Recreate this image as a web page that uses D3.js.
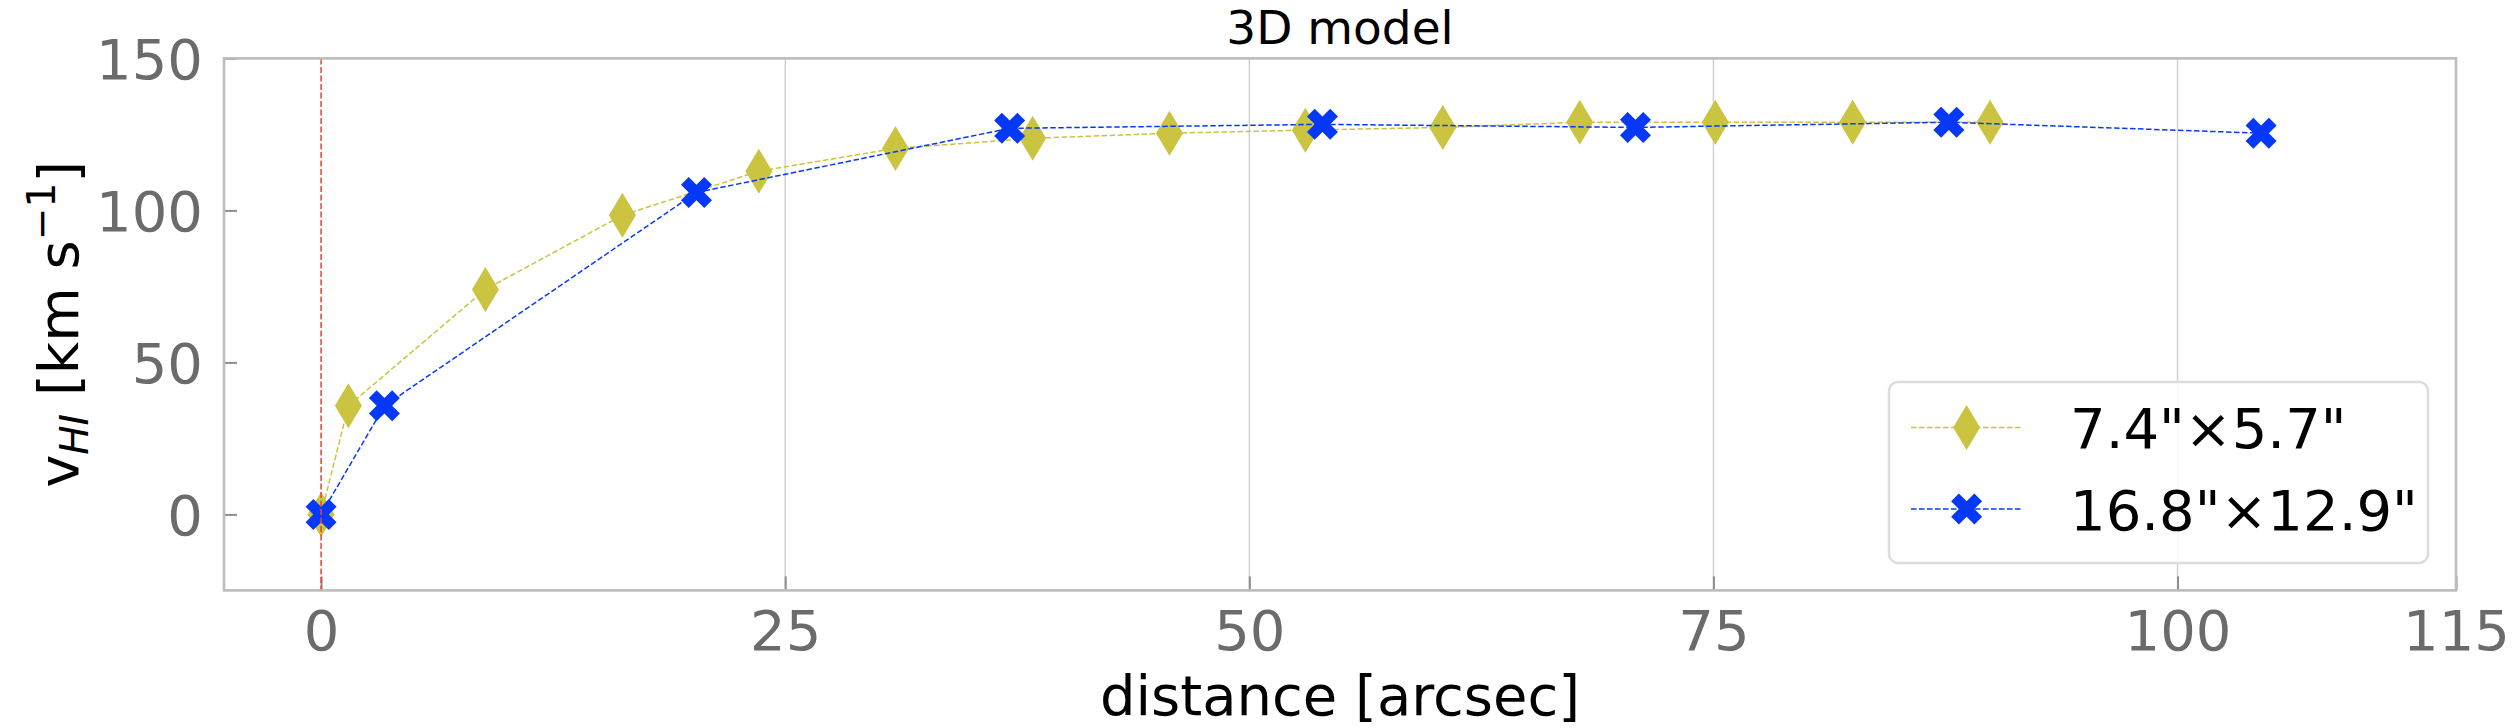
<!DOCTYPE html>
<html>
<head>
<meta charset="utf-8">
<script src="https://cdn.jsdelivr.net/npm/d3@7"></script>
<style>
  html, body { margin: 0; padding: 0; background: #ffffff; }
  svg { display: block; }
  text { font-family: "DejaVu Sans", sans-serif; }
</style>
</head>
<body>
<script>
// ---------------- data ----------------
const seriesNames = ['7.4"\u00d75.7"', '16.8"\u00d712.9"'];
const distYellow = [0, 1.47, 8.85, 16.23, 23.58, 30.94, 38.33, 45.70, 53.02, 60.42, 67.80, 75.10, 82.50, 89.90];
const velYellow  = [0, 35.7, 74.0, 98.4, 112.9, 120.4, 123.7, 125.4, 126.4, 127.3, 129.0, 129.0, 129.0, 129.0];
const distBlue   = [0, 3.41, 20.22, 37.09, 53.94, 70.80, 87.68, 104.50];
const velBlue    = [0, 35.7, 105.9, 127.0, 128.3, 127.3, 129.0, 125.4];
const xTicks = [0, 25, 50, 75, 100, 115];
const xTickLabels = ["0", "25", "50", "75", "100", "115"];
const yTicks = [0, 50, 100, 150];
const yTickLabels = ["0", "50", "100", "150"];
const titleText = "3D model";
const xLabelText = "distance [arcsec]";

// ---------------- layout ----------------
const W = 2512, H = 728;
const L = 224, R = 2456, T = 58.4, B = 590.4;
const colYellow = "#cac441", colBlue = "#0638fa", colRed = "#e8432c";
const FS = 56;

const svg = d3.select("body").append("svg").attr("width", W).attr("height", H);

const x = d3.scaleLinear().domain([-5.23, 115]).range([L, R]);
const y = d3.scaleLinear().domain([-25, 150]).range([B, T]);

// grid (vertical only)
svg.append("g").selectAll("line").data(xTicks.filter(d => d > 0 && d < 115)).join("line")
  .attr("x1", d => x(d)).attr("x2", d => x(d)).attr("y1", T).attr("y2", B)
  .attr("stroke", "#d0d0d0").attr("stroke-width", 1.4);

// axes with inward ticks
const xAxis = d3.axisBottom(x).tickValues(xTicks).tickFormat((d, i) => xTickLabels[i])
  .tickSizeInner(-14).tickSizeOuter(0).tickPadding(0);
const gx = svg.append("g").attr("transform", `translate(0,${B})`).call(xAxis);
gx.select(".domain").remove();
gx.selectAll(".tick line").attr("stroke", "#8c8c8c").attr("stroke-width", 2);
gx.selectAll(".tick text").attr("y", 60).attr("dy", null)
  .attr("font-size", FS).attr("fill", "#6b6b6b").attr("font-family", "DejaVu Sans");

const yAxis = d3.axisLeft(y).tickValues(yTicks).tickFormat((d, i) => yTickLabels[i])
  .tickSizeInner(-13).tickSizeOuter(0).tickPadding(0);
const gy = svg.append("g").attr("transform", `translate(${L},0)`).call(yAxis);
gy.select(".domain").remove();
gy.selectAll(".tick line").attr("stroke", "#8c8c8c").attr("stroke-width", 2);
gy.selectAll(".tick text").attr("x", -21).attr("dy", "0.36em")
  .attr("font-size", FS).attr("fill", "#6b6b6b").attr("font-family", "DejaVu Sans");

// markers
const diamondPath = () => {
  const h = 22.5, w = 13.5;
  return `M0,${-h}L${w},0L0,${h}L${-w},0Z`;
};
const xPath = () => {
  const s = 31 / 4;
  const pts = [[-1,-2],[0,-1],[1,-2],[2,-1],[1,0],[2,1],[1,2],[0,1],[-1,2],[-2,1],[-1,0],[-2,-1]];
  return "M" + pts.map(p => `${p[0]*s},${p[1]*s}`).join("L") + "Z";
};

const line = d3.line().x(d => x(d[0])).y(d => y(d[1]));

function drawSeries(xs, vs, color, pathFn) {
  const pts = xs.map((d, i) => [d, vs[i]]);
  const g = svg.append("g");
  g.append("path").attr("d", line(pts)).attr("fill", "none")
    .attr("stroke", color).attr("stroke-width", 1.5).attr("stroke-dasharray", "5.5,2.5");
  g.selectAll("path.m").data(pts).join("path").attr("class", "m")
    .attr("transform", d => `translate(${x(d[0])},${y(d[1])})`)
    .attr("d", pathFn()).attr("fill", color);
}
drawSeries(distYellow, velYellow, colYellow, diamondPath);
drawSeries(distBlue, velBlue, colBlue, xPath);

// red vertical reference line
svg.append("line").attr("x1", x(0)).attr("x2", x(0)).attr("y1", T).attr("y2", B)
  .attr("stroke", colRed).attr("stroke-width", 1.5).attr("stroke-dasharray", "6,2.5");

// spines
svg.append("rect").attr("x", L).attr("y", T).attr("width", R - L).attr("height", B - T)
  .attr("fill", "none").attr("stroke", "#bcbcbc").attr("stroke-width", 2.6);

// title
svg.append("text").attr("x", (L + R) / 2).attr("y", 44).attr("text-anchor", "middle")
  .attr("font-size", 47).attr("fill", "#000").text(titleText);

// x label
svg.append("text").attr("x", (L + R) / 2).attr("y", 715).attr("text-anchor", "middle")
  .attr("font-size", FS).attr("fill", "#000").text(xLabelText);

// y label with sub/superscript
const yl = svg.append("text").attr("transform", `translate(78,${(T + B) / 2}) rotate(-90)`)
  .attr("text-anchor", "middle").attr("font-size", FS).attr("fill", "#000");
yl.append("tspan").text("v");
yl.append("tspan").attr("dy", 10).attr("font-size", 39).attr("font-style", "italic").text("HI");
yl.append("tspan").attr("dy", -10).text(" [km s");
yl.append("tspan").attr("dy", -23).attr("font-size", 39).text("\u22121");
yl.append("tspan").attr("dy", 23).text("]");

// legend
const lg = svg.append("g");
lg.append("rect").attr("x", 1889).attr("y", 382).attr("width", 539).attr("height", 181)
  .attr("rx", 9).attr("fill", "#ffffff").attr("fill-opacity", 0.8)
  .attr("stroke", "#dcdcdc").attr("stroke-width", 2.5);
const legendItems = [
  { name: seriesNames[0], color: colYellow, path: diamondPath, cy: 427.6 },
  { name: seriesNames[1], color: colBlue, path: xPath, cy: 509 }
];
legendItems.forEach(it => {
  lg.append("line").attr("x1", 1911).attr("x2", 2022).attr("y1", it.cy).attr("y2", it.cy)
    .attr("stroke", it.color).attr("stroke-width", 1.5).attr("stroke-dasharray", "5.5,2.5");
  lg.append("path").attr("transform", `translate(1966.6,${it.cy})`).attr("d", it.path()).attr("fill", it.color);
  lg.append("text").attr("x", 2070).attr("y", it.cy + 20.8).attr("font-size", FS)
    .attr("fill", "#000").text(it.name);
});
</script>
</body>
</html>
